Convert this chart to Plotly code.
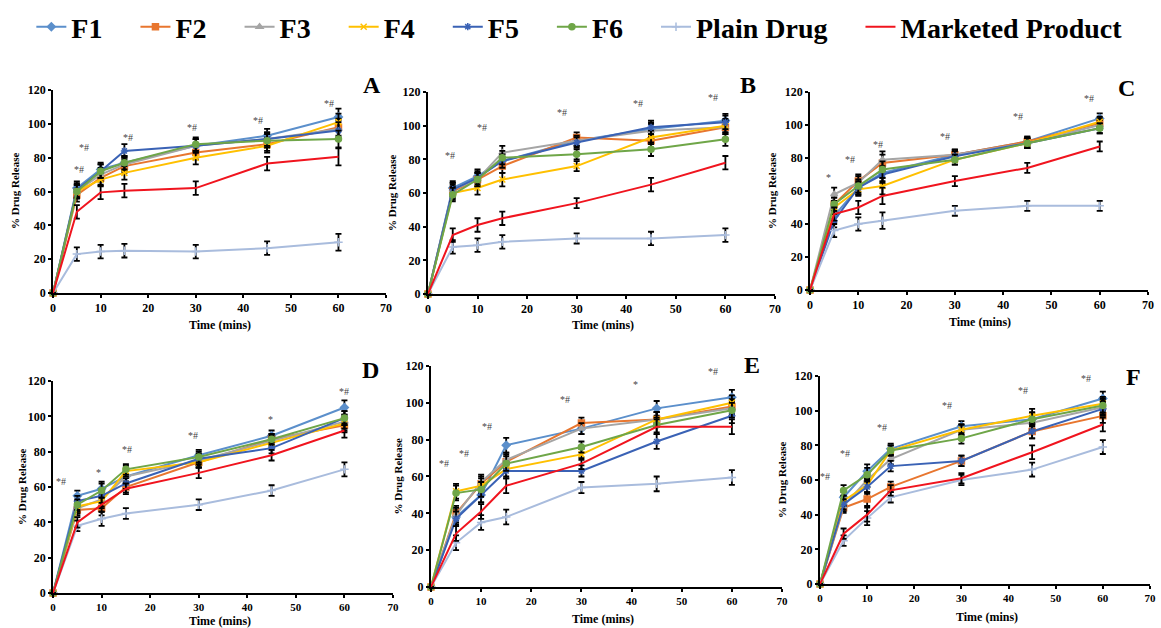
import plotly.graph_objects as go

time = [0, 5, 10, 15, 30, 45, 60]
series_names = ["F1", "F2", "F3", "F4", "F5", "F6", "Plain Drug", "Marketed Product"]
panel_labels = ["A", "B", "C", "D", "E", "F"]

# % drug release per panel (A..F), per series
A_F1 = [0, 62, 73, 77, 87, 93, 104]
A_F2 = [0, 58, 68, 75, 83, 88, 98]
A_F3 = [0, 60, 70, 76, 87, 91, 97]
A_F4 = [0, 60, 67, 71, 80, 87, 101]
A_F5 = [0, 61, 72, 84, 87, 91, 96]
A_F6 = [0, 60, 72, 77, 88, 90, 91]
A_PD = [0, 23, 24.5, 25, 24.5, 26.5, 30]
A_MP = [0, 48, 59.5, 60.5, 62, 76.5, 80.5]

B_F1 = [0, 63, 70, 79, 91, 98, 103]
B_F2 = [0, 61, 68, 76, 93, 91, 99]
B_F3 = [0, 62, 68, 84, 91, 97, 99]
B_F4 = [0, 60, 63, 68, 76, 93, 100]
B_F5 = [0, 62, 69, 79, 90, 99, 102]
B_F6 = [0, 59, 68, 81, 83, 86, 92]
B_PD = [0, 28, 29, 31, 33, 33, 35]
B_MP = [0, 35, 41, 45, 54, 65, 78]

C_F1 = [0, 45, 62, 71, 82, 90, 104]
C_F2 = [0, 52, 66, 77, 82, 90, 101]
C_F3 = [0, 58, 65, 79, 82, 89, 100]
C_F4 = [0, 50, 61, 63, 79, 89, 102]
C_F5 = [0, 42, 62, 70, 81, 89, 98]
C_F6 = [0, 52, 63, 73, 79, 89, 98]
C_PD = [0, 36, 40, 42, 48, 51, 51]
C_MP = [0, 46, 50, 57, 66, 74, 87]

D_F1 = [0, 55, 59, 66, 78, 89, 105]
D_F2 = [0, 47, 48, 60, 74, 87, 95]
D_F3 = [0, 48, 53, 66, 75, 86, 97]
D_F4 = [0, 49, 52, 69, 74, 85, 96]
D_F5 = [0, 52, 55, 62, 76, 82, 99]
D_F6 = [0, 50, 58, 70, 77, 87, 99]
D_PD = [0, 38, 42, 45, 50, 58, 70]
D_MP = [0, 40, 50, 59, 68, 78, 92]

E_F1 = [0, 38, 50, 77, 86, 97, 103]
E_F2 = [0, 40, 56, 68, 89, 91, 98]
E_F3 = [0, 39, 57, 69, 86, 91, 97]
E_F4 = [0, 52, 55, 64, 72, 91, 100]
E_F5 = [0, 37, 50, 63, 63, 79, 93]
E_F6 = [0, 51, 53, 67, 76, 88, 96]
E_PD = [0, 24, 35, 38, 54, 56, 59.5]
E_MP = [0, 29, 41, 55, 67, 87, 87]

F_F1 = [0, 50, 65, 78, 91, 95, 107]
F_F2 = [0, 44, 49, 56, 71, 88, 97]
F_F3 = [0, 45, 60, 72, 89, 93, 102]
F_F4 = [0, 48, 57, 77, 89, 97, 104]
F_F5 = [0, 46, 56, 68, 71, 88, 101]
F_F6 = [0, 54, 63, 77, 84, 95, 103]
F_PD = [0, 25, 38, 50, 60, 66, 79]
F_MP = [0, 29, 40, 54, 61, 76, 92]

# standard deviation (error bar half-length), per panel
A_ERR = [0, 4, 4, 4, 4, 4, 5]
B_ERR = [0, 4, 4, 4, 3, 4, 4]
C_ERR = [0, 4, 4, 5, 3, 3, 3]
D_ERR = [0, 3, 4, 3, 3, 3, 4]
E_ERR = [0, 4, 4, 4, 3, 4, 4]
F_ERR = [0, 3, 4, 3, 3, 4, 4]

# significance marks (time, % release, text), per panel
A_SIG_X = [5.4, 6.6, 15.8, 29.3, 43, 58]
A_SIG_Y = [73, 86, 92, 98, 102, 112]
A_SIG_T = ["*#", "*#", "*#", "*#", "*#", "*#"]
B_SIG_X = [4.5, 10.9, 27, 42.4, 57.4]
B_SIG_Y = [82, 99, 108, 113, 117]
B_SIG_T = ["*#", "*#", "*#", "*#", "*#"]
C_SIG_X = [3.8, 8.3, 14, 28, 43, 57.8]
C_SIG_Y = [68, 79, 88, 93, 105, 116]
C_SIG_T = ["*", "*#", "*#", "*#", "*#", "*#"]
D_SIG_X = [1.7, 9.4, 15.2, 28.8, 44.7, 60]
D_SIG_Y = [63, 68, 81, 89, 98, 114]
D_SIG_T = ["*#", "*", "*#", "*#", "*", "*#"]
E_SIG_X = [2.5, 6.6, 11.2, 26.8, 40.7, 56.3]
E_SIG_Y = [67, 72.5, 87, 102, 110, 117]
E_SIG_T = ["*#", "*#", "*#", "*#", "*", "*#"]
F_SIG_X = [1, 5.2, 13.2, 27, 43, 56.5]
F_SIG_Y = [62, 75, 90, 103, 111.5, 118.6]
F_SIG_T = ["*#", "*#", "*#", "*#", "*#", "*#"]

panels = [
    ([A_F1, A_F2, A_F3, A_F4, A_F5, A_F6, A_PD, A_MP], A_ERR, A_SIG_X, A_SIG_Y, A_SIG_T),
    ([B_F1, B_F2, B_F3, B_F4, B_F5, B_F6, B_PD, B_MP], B_ERR, B_SIG_X, B_SIG_Y, B_SIG_T),
    ([C_F1, C_F2, C_F3, C_F4, C_F5, C_F6, C_PD, C_MP], C_ERR, C_SIG_X, C_SIG_Y, C_SIG_T),
    ([D_F1, D_F2, D_F3, D_F4, D_F5, D_F6, D_PD, D_MP], D_ERR, D_SIG_X, D_SIG_Y, D_SIG_T),
    ([E_F1, E_F2, E_F3, E_F4, E_F5, E_F6, E_PD, E_MP], E_ERR, E_SIG_X, E_SIG_Y, E_SIG_T),
    ([F_F1, F_F2, F_F3, F_F4, F_F5, F_F6, F_PD, F_MP], F_ERR, F_SIG_X, F_SIG_Y, F_SIG_T),
]

colors = ["#5B8FCB", "#E8762F", "#A5A5A5", "#FFC000", "#3A62B5", "#6FA648", "#A9BCDD", "#F0141E"]
symbols = ["diamond", "square", "triangle-up", "x-thin-open", "asterisk-open", "circle", "cross-thin-open", None]

# plot-area domains (paper fractions) for panels A..F
x_domains = [(0.0457, 0.3325), (0.3686, 0.6675), (0.6977, 0.9888),
             (0.0457, 0.3385), (0.3712, 0.6736), (0.7063, 0.9905)]
y_domains = [(0.5334, 0.8567), (0.5318, 0.8535), (0.5382, 0.8535),
             (0.0557, 0.3933), (0.0653, 0.4172), (0.0701, 0.4013)]
# panel letter, x-title and y-title positions (paper fractions)
letter_pos = [(0.3204, 0.8646), (0.6443, 0.8646), (0.9707, 0.8599),
              (0.3187, 0.4108), (0.6477, 0.4188), (0.9759, 0.3997)]
xtitle_pos = [(0.1895, 0.4825), (0.5194, 0.4825), (0.8441, 0.4873),
              (0.1895, 0.0115), (0.5194, 0.0140), (0.8501, 0.0170)]
ytitle_pos = [(0.0129, 0.6959), (0.3376, 0.6927), (0.6650, 0.6959),
              (0.0189, 0.2245), (0.3428, 0.2413), (0.6735, 0.2357)]
xtick_sizes = [12, 12, 12, 11, 11, 11]

FONT = "Times New Roman, Liberation Serif, serif"
PAD = "\u00a0\u00a0\u00a0\u00a0"
fig = go.Figure()
annotations = []

for p, (vals, err, sx, sy, st) in enumerate(panels):
    xa = "x" if p == 0 else f"x{p+1}"
    ya = "y" if p == 0 else f"y{p+1}"
    for s, name in enumerate(series_names):
        marker = dict(color=colors[s], size=6, line=dict(color=colors[s], width=1.5))
        mode = "lines+markers"
        if symbols[s] is None:
            mode = "lines"
        else:
            marker["symbol"] = symbols[s]
        label = name if s == len(series_names) - 1 else name + PAD
        fig.add_trace(go.Scatter(
            x=time, y=vals[s], name=label, mode=mode,
            line=dict(color=colors[s], width=2),
            marker=marker,
            error_y=dict(type="data", array=err, visible=True, color="black", thickness=1.8, width=3),
            xaxis=xa, yaxis=ya, legendgroup=name, showlegend=(p == 0), cliponaxis=False,
        ))
    for xv, yv, tv in zip(sx, sy, st):
        annotations.append(dict(x=xv, y=yv, xref=xa, yref=ya, text=tv, showarrow=False,
                                font=dict(family=FONT, size=10, color="#444444")))
    annotations.append(dict(x=letter_pos[p][0], y=letter_pos[p][1], xref="paper", yref="paper",
                            text=panel_labels[p], showarrow=False,
                            xanchor="center", yanchor="middle",
                            font=dict(family=FONT, size=24, color="black", weight="bold")))
    annotations.append(dict(x=xtitle_pos[p][0], y=xtitle_pos[p][1], xref="paper", yref="paper",
                            text="Time (mins)", showarrow=False,
                            xanchor="center", yanchor="middle",
                            font=dict(family=FONT, size=12, color="black", weight="bold")))
    annotations.append(dict(x=ytitle_pos[p][0], y=ytitle_pos[p][1], xref="paper", yref="paper",
                            text="% Drug Release", showarrow=False, textangle=-90,
                            xanchor="center", yanchor="middle",
                            font=dict(family=FONT, size=11, color="black", weight="bold")))

layout = dict(
    width=1161, height=628,
    margin=dict(l=0, r=0, t=0, b=0, autoexpand=False),
    paper_bgcolor="white", plot_bgcolor="white",
    font=dict(family=FONT, color="black"),
    showlegend=True,
    legend=dict(orientation="h", x=0.027, xanchor="left", y=0.957, yanchor="middle",
                font=dict(family=FONT, size=28, color="black", weight="bold"),
                tracegroupgap=0, traceorder="normal", bgcolor="rgba(0,0,0,0)"),
    annotations=annotations,
)
for p in range(6):
    xk = "xaxis" if p == 0 else f"xaxis{p+1}"
    yk = "yaxis" if p == 0 else f"yaxis{p+1}"
    ya = "y" if p == 0 else f"y{p+1}"
    xa = "x" if p == 0 else f"x{p+1}"
    layout[xk] = dict(domain=x_domains[p], anchor=ya, range=[0, 70], dtick=10, tick0=0,
                      automargin=False,
                      showline=True, linecolor="black", linewidth=2, ticks="outside",
                      ticklen=3, tickwidth=1.5, tickcolor="black", showgrid=False, zeroline=False,
                      tickfont=dict(family=FONT, size=xtick_sizes[p], color="black", weight="bold"))
    layout[yk] = dict(domain=y_domains[p], anchor=xa, range=[0, 120], dtick=20, tick0=0,
                      automargin=False,
                      showline=True, linecolor="black", linewidth=2, ticks="outside",
                      ticklen=3, tickwidth=1.5, tickcolor="black", showgrid=False, zeroline=False,
                      tickfont=dict(family=FONT, size=12, color="black", weight="bold"))

fig.update_layout(**layout)
fig.write_html("out.html", config={"displayModeBar": False},
               post_script="document.body.style.margin='0';document.body.style.overflow='hidden';")
